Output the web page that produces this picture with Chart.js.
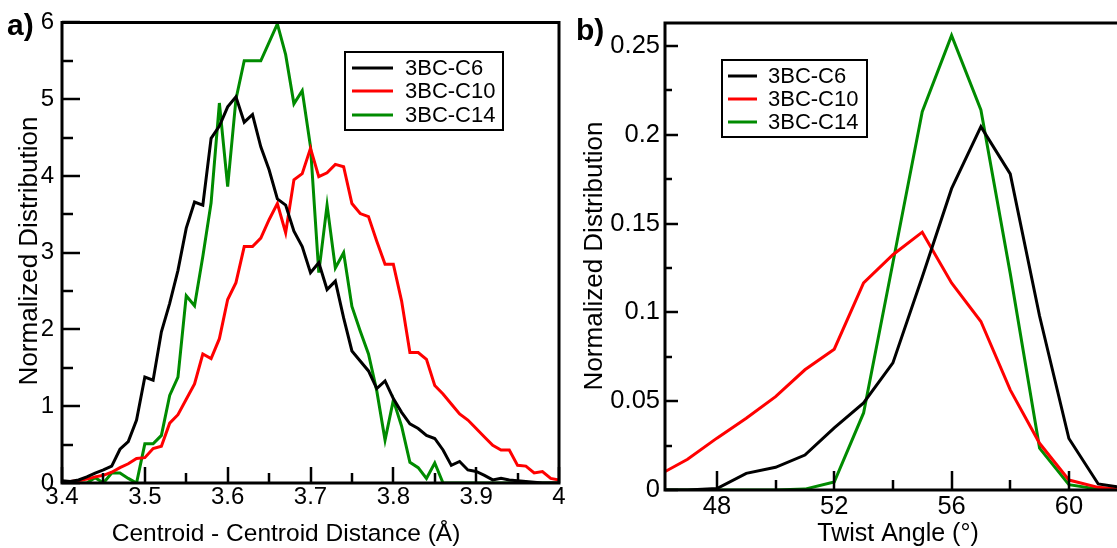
<!DOCTYPE html>
<html>
<head>
<meta charset="utf-8">
<script src="https://cdn.jsdelivr.net/npm/chart.js@4"></script>
<style>
html,body{margin:0;padding:0;background:#fff;}
body{width:1117px;height:548px;overflow:hidden;position:relative;}
#wa{position:absolute;left:0;top:0;}
#wb{position:absolute;left:570px;top:0;}
</style>
</head>
<body>
<canvas id="wa" width="580" height="548"></canvas>
<canvas id="wb" width="550" height="548"></canvas>
<script>
// ---------- Panel a data: centroid–centroid distance (Å) ----------
const xA = [3.40,3.41,3.42,3.43,3.44,3.45,3.46,3.47,3.48,3.49,
            3.50,3.51,3.52,3.53,3.54,3.55,3.56,3.57,3.58,3.59,
            3.60,3.61,3.62,3.63,3.64,3.65,3.66,3.67,3.68,3.69,
            3.70,3.71,3.72,3.73,3.74,3.75,3.76,3.77,3.78,3.79,
            3.80,3.81,3.82,3.83,3.84,3.85,3.86,3.87,3.88,3.89,
            3.90,3.91,3.92,3.93,3.94,3.95,3.96,3.97,3.98,3.99,4.00];
const c6A  = [0.03,0.02,0.04,0.08,0.13,0.17,0.22,0.44,0.54,0.82,
              1.38,1.34,1.97,2.34,2.77,3.32,3.66,3.62,4.49,4.65,
              4.90,5.03,4.70,4.80,4.38,4.08,3.70,3.62,3.28,3.08,
              2.74,2.87,2.52,2.63,2.15,1.72,1.59,1.46,1.23,1.33,
              1.10,0.92,0.77,0.71,0.62,0.58,0.43,0.23,0.28,0.17,
              0.15,0.10,0.04,0.06,0.04,0.03,0.02,0.01,0,0,0];
const c10A = [0.01,0.02,0.03,0.05,0.08,0.10,0.14,0.20,0.25,0.32,
              0.33,0.45,0.48,0.78,0.89,1.09,1.29,1.68,1.62,1.88,
              2.39,2.61,3.08,3.08,3.19,3.43,3.64,3.26,3.95,4.03,
              4.36,3.99,4.04,4.15,4.12,3.64,3.51,3.47,3.15,2.85,
              2.85,2.37,1.70,1.70,1.61,1.27,1.16,1.03,0.90,0.82,
              0.71,0.60,0.49,0.43,0.43,0.23,0.22,0.13,0.15,0.06,0.04];
const c14A = [0,0,0,0,0.07,0,0.13,0.13,0.06,0,
              0.51,0.51,0.62,1.14,1.38,2.44,2.31,2.95,3.65,4.95,
              3.86,5.00,5.50,5.50,5.50,5.74,5.98,5.58,4.94,5.11,
              4.38,2.74,3.62,2.80,3.00,2.30,1.98,1.68,1.20,0.56,
              1.08,0.74,0.27,0.20,0.06,0.26,0,0,0,0,
              0,0,0,0,0,0,0,0,0,0,0];

// ---------- Panel b data: twist angle (°) ----------
const xB   = [46,47,48,49,50,51,52,53,54,55,56,57,58,59,60,61,62];
const c6B  = [0,0,0.0008,0.0094,0.0128,0.0197,0.035,0.049,0.0716,0.12,0.1697,0.2046,0.178,0.098,0.029,0.0034,0.001];
const c10B = [0.0083,0.0173,0.0292,0.0404,0.0526,0.0677,0.0793,0.1166,0.1325,0.1452,0.1166,0.0949,0.0564,0.0263,0.0056,0.0015,0];
const c14B = [0,0,0,0,0,0.0005,0.0045,0.0434,0.128,0.213,0.256,0.214,0.122,0.0236,0.003,0.0005,0];
const ticksBx = [48,52,56,60];

const seriesNames = ['3BC-C6','3BC-C10','3BC-C14'];
const seriesColors = ['#000000','#ff0000','#008b00'];

const FONT = "'Liberation Sans', Arial, Helvetica, sans-serif";
Chart.defaults.font.family = FONT;
Chart.defaults.color = '#000';

const pts = (xs, ys) => xs.map((x, i) => ({x, y: ys[i]}));
const fmt = v => String(parseFloat(Number(v).toFixed(4)));

const deco = {
  id: 'deco',
  afterDraw(chart, args, o) {
    const {ctx, chartArea: ca} = chart;
    const xs = chart.scales.x, ys = chart.scales.y;
    ctx.save();
    ctx.strokeStyle = '#000';
    ctx.fillStyle = '#000';
    ctx.lineCap = 'butt';
    const majX = xs.ticks.map(t => t.value), majY = ys.ticks.map(t => t.value);
    const minors = (maj, lo, hi) => {
      const st = maj[1] - maj[0], out = [];
      if (maj[0] - st / 2 >= lo - 1e-9) out.push(maj[0] - st / 2);
      maj.forEach(v => { if (v + st / 2 <= hi + 1e-9) out.push(v + st / 2); });
      return out;
    };
    ctx.lineWidth = o.tickWidth;
    const tickX = (v, len) => { const p = Math.round(xs.getPixelForValue(v)); ctx.beginPath(); ctx.moveTo(p, ca.bottom); ctx.lineTo(p, ca.bottom - len); ctx.stroke(); };
    const tickY = (v, len) => { const p = Math.round(ys.getPixelForValue(v)); ctx.beginPath(); ctx.moveTo(ca.left, p); ctx.lineTo(ca.left + len, p); ctx.stroke(); };
    majX.forEach(v => tickX(v, o.xMajor));
    minors(majX, xs.min, xs.max).forEach(v => tickX(v, o.xMinor));
    majY.forEach(v => tickY(v, o.yMajor));
    minors(majY, ys.min, ys.max).forEach(v => tickY(v, o.yMinor));
    // frame
    ctx.lineWidth = o.frameWidth;
    ctx.lineJoin = 'miter';
    ctx.beginPath();
    if (o.box) {
      ctx.rect(ca.left, ca.top, ca.right - ca.left, ca.bottom - ca.top);
    } else {
      ctx.moveTo(ca.right + 2, ca.top);
      ctx.lineTo(ca.left, ca.top);
      ctx.lineTo(ca.left, ca.bottom);
      ctx.lineTo(ca.right + 2, ca.bottom);
    }
    ctx.stroke();
    // legend
    const L = o.legend;
    ctx.fillStyle = '#fff';
    ctx.fillRect(L.x, L.y, L.w, L.h);
    ctx.lineWidth = 2;
    ctx.strokeStyle = '#000';
    ctx.strokeRect(L.x, L.y, L.w, L.h);
    chart.data.datasets.forEach((ds, i) => {
      const yy = L.rows[i];
      ctx.strokeStyle = ds.borderColor;
      ctx.lineWidth = 3;
      ctx.beginPath(); ctx.moveTo(L.lx1, yy); ctx.lineTo(L.lx2, yy); ctx.stroke();
      ctx.fillStyle = '#000';
      ctx.font = L.font;
      ctx.textAlign = 'left';
      ctx.textBaseline = 'middle';
      ctx.fillText(ds.label, L.tx, yy + 1);
    });
    // texts
    o.texts.forEach(t => {
      ctx.save();
      ctx.translate(t.x, t.y);
      ctx.rotate(t.rot || 0);
      ctx.font = t.font;
      ctx.fillStyle = '#000';
      ctx.textAlign = t.align || 'center';
      ctx.textBaseline = 'alphabetic';
      ctx.fillText(t.text, 0, 0);
      ctx.restore();
    });
    ctx.restore();
  }
};

function makeDatasets(xs, list) {
  return list.map((ys, i) => ({
    label: seriesNames[i],
    data: pts(xs, ys),
    borderColor: seriesColors[i],
    backgroundColor: seriesColors[i],
    borderWidth: 3,
    pointRadius: 0,
    tension: 0,
    fill: false
  }));
}

// ---------- Chart a ----------
new Chart(document.getElementById('wa'), {
  type: 'line',
  data: { datasets: makeDatasets(xA, [c6A, c10A, c14A]) },
  options: {
    responsive: false,
    animation: false,
    devicePixelRatio: 1,
    layout: { padding: { left: 0, top: 20, right: 21, bottom: 0 } },
    plugins: {
      legend: { display: false },
      tooltip: { enabled: false },
      deco: {
        tickWidth: 2.5, frameWidth: 3,
        xMajor: 16, xMinor: 10, yMajor: 18, yMinor: 11,
        box: true,
        legend: { x: 345, y: 52, w: 158, h: 78, rows: [68, 91, 115], lx1: 352, lx2: 393, tx: 405, font: "22px " + FONT },
        texts: [
          { text: 'Centroid - Centroid Distance (Å)', x: 286, y: 541, font: "24.5px " + FONT },
          { text: 'Normalized Distribution', x: 36.5, y: 251, rot: -Math.PI / 2, font: "26px " + FONT },
          { text: 'a)', x: 7, y: 35, align: 'left', font: "bold 30px " + FONT }
        ]
      }
    },
    scales: {
      x: {
        type: 'linear', min: 3.4, max: 4.0, bounds: 'data',
        ticks: { stepSize: 0.1, padding: 0, maxRotation: 0, autoSkip: false, font: { size: 24 }, color: '#000', callback: fmt },
        grid: { display: false, drawTicks: false },
        border: { display: false },
        afterFit(s) { s.height = 65; }
      },
      y: {
        type: 'linear', min: 0, max: 6, bounds: 'data',
        ticks: { stepSize: 1, padding: 8, font: { size: 24 }, color: '#000', callback: fmt },
        grid: { display: false, drawTicks: false },
        border: { display: false },
        afterFit(s) { s.width = 62; }
      }
    }
  },
  plugins: [deco]
});

// ---------- Chart b ----------
new Chart(document.getElementById('wb'), {
  type: 'line',
  data: { datasets: makeDatasets(xB, [c6B, c10B, c14B]) },
  options: {
    responsive: false,
    animation: false,
    devicePixelRatio: 1,
    layout: { padding: { left: 0, top: 23, right: 3, bottom: 0 } },
    plugins: {
      legend: { display: false },
      tooltip: { enabled: false },
      deco: {
        tickWidth: 2.5, frameWidth: 3,
        xMajor: 19, xMinor: 10, yMajor: 13, yMinor: 7,
        box: false,
        legend: { x: 152, y: 60, w: 145, h: 77, rows: [76, 99, 122], lx1: 158, lx2: 187, tx: 198, font: "22px " + FONT },
        texts: [
          { text: 'Twist Angle (°)', x: 328, y: 541, font: "25px " + FONT },
          { text: 'Normalized Distribution', x: 31.5, y: 256, rot: -Math.PI / 2, font: "26px " + FONT },
          { text: 'b)', x: 6, y: 40, align: 'left', font: "bold 30px " + FONT }
        ]
      }
    },
    scales: {
      x: {
        type: 'linear', min: 46.23, max: 61.64, bounds: 'data',
        ticks: { padding: 2, maxRotation: 0, autoSkip: false, font: { size: 25.5 }, color: '#000', callback: fmt },
        afterBuildTicks(s) { s.ticks = ticksBx.map(v => ({ value: v })); },
        grid: { display: false, drawTicks: false },
        border: { display: false },
        afterFit(s) { s.height = 58; }
      },
      y: {
        type: 'linear', min: 0, max: 0.263, bounds: 'data',
        ticks: { stepSize: 0.05, includeBounds: false, padding: 5, font: { size: 25.5 }, color: '#000', callback: fmt },
        grid: { display: false, drawTicks: false },
        border: { display: false },
        afterFit(s) { s.width = 95; }
      }
    }
  },
  plugins: [deco]
});
</script>
</body>
</html>
